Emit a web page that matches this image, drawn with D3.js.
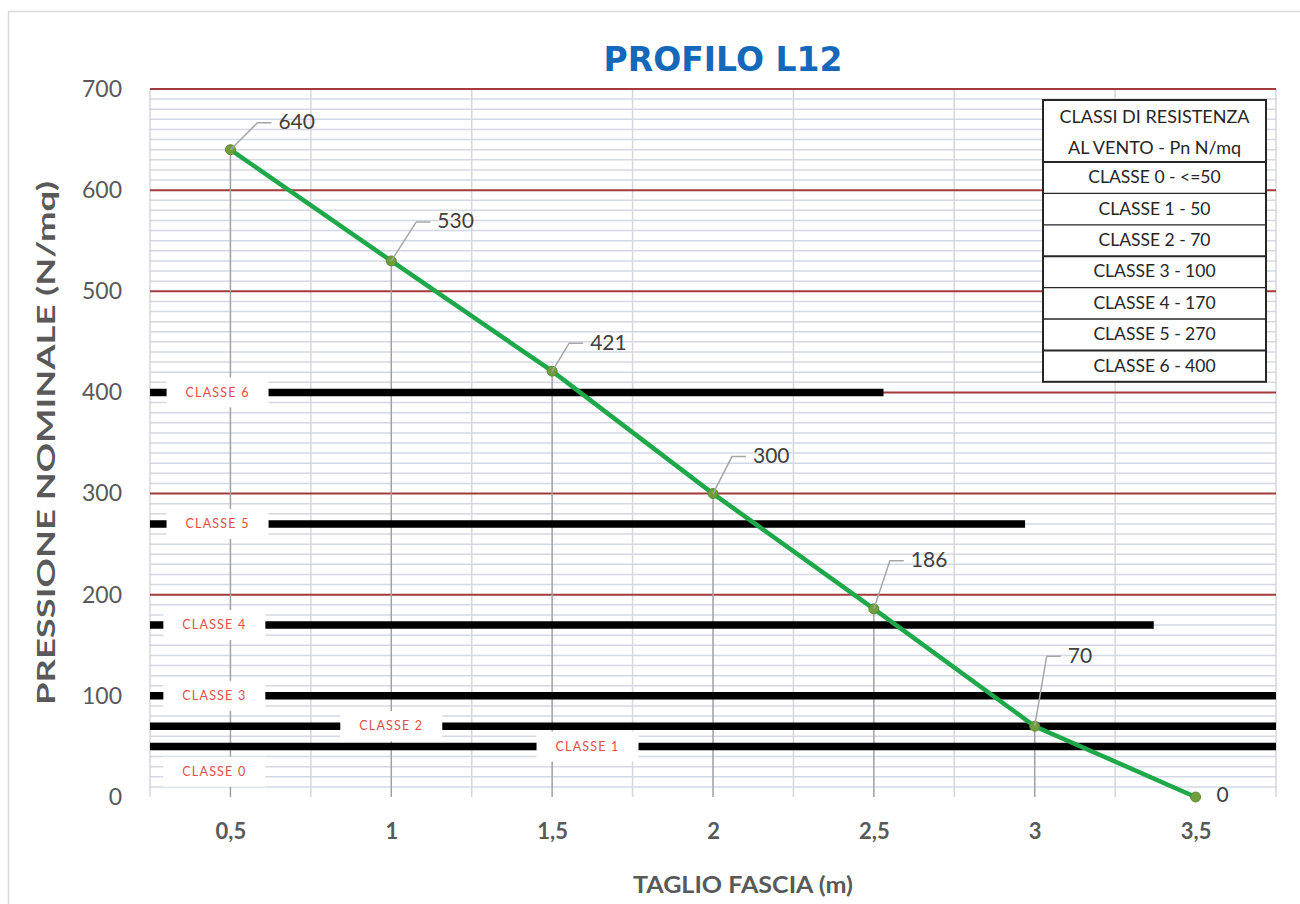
<!DOCTYPE html>
<html>
<head>
<meta charset="utf-8">
<script src="https://cdn.jsdelivr.net/npm/d3@7"></script>
<style>
  body { margin: 0; background: #fff; }
  svg { display: block; }
</style>
</head>
<body>
<svg id="chart"></svg>
<script>
// values
const taglio = [0.5, 1, 1.5, 2, 2.5, 3, 3.5];
const pressione = [640, 530, 421, 300, 186, 70, 0];
const xTicks = [0.5, 1, 1.5, 2, 2.5, 3, 3.5];
const yTicks = [0, 100, 200, 300, 400, 500, 600, 700];

// wind classes drawn as thick black lines, with their labels
const classi = ["CLASSE 6", "CLASSE 5", "CLASSE 4", "CLASSE 3", "CLASSE 2", "CLASSE 1", "CLASSE 0"];
const classeValore = [400, 270, 170, 100, 70, 50, 25];
const classeFine = [2.53, 2.97, 3.37, 3.75, 3.75, 3.75, null];   // null = no line
const classeEtichettaX = [0.46, 0.46, 0.45, 0.45, 1.0, 1.61, 0.45];

const legendaTitolo = ["CLASSI DI RESISTENZA", "AL VENTO - Pn N/mq"];
const legendaRighe = ["CLASSE 0 - <=50", "CLASSE 1 - 50", "CLASSE 2 - 70", "CLASSE 3 - 100",
                      "CLASSE 4 - 170", "CLASSE 5 - 270", "CLASSE 6 - 400"];

// where excel left the data labels (pixels from the point)
const labelOffsets = [[48, -26], [46, -38], [38, -27], [40, -36], [37, -47], [33, -69], [21, 0]];

const width = 1300, height = 904;
const margin = {top: 89, right: 24, bottom: 107, left: 150};

const svg = d3.select("#chart").attr("width", width).attr("height", height);

// outer chart frame (only top/left edges are in view)
svg.append("rect")
  .attr("x", 8.5).attr("y", 11.5).attr("width", 1320).attr("height", 920)
  .attr("fill", "#fff").attr("stroke", "#d9d9d9").attr("stroke-width", 1.5);

const x = d3.scaleLinear().domain([0.25, 3.75]).range([margin.left, width - margin.right]);
const y = d3.scaleLinear().domain([0, 700]).range([height - margin.bottom, margin.top]);

// minor horizontal grid every 10
const minor = d3.range(0, 701, 10).filter(d => d % 100 !== 0);
svg.append("g").selectAll("line").data(minor).enter().append("line")
  .attr("x1", x(0.25)).attr("x2", x(3.75))
  .attr("y1", d => y(d)).attr("y2", d => y(d))
  .attr("stroke", "#d3d8e4").attr("stroke-width", 1.5);

// vertical grid between categories
svg.append("g").selectAll("line").data(d3.range(0.25, 3.8, 0.5)).enter().append("line")
  .attr("x1", d => x(d)).attr("x2", d => x(d))
  .attr("y1", y(700)).attr("y2", y(0))
  .attr("stroke", "#d6d6de").attr("stroke-width", 1.5);

// major grid (dark red)
svg.append("g").selectAll("line").data(yTicks.filter(d => d > 0)).enter().append("line")
  .attr("x1", x(0.25)).attr("x2", x(3.75))
  .attr("y1", d => y(d)).attr("y2", d => y(d))
  .attr("stroke", "#a33b3b").attr("stroke-width", 2);

// drop lines from each point
svg.append("g").selectAll("line").data(taglio).enter().append("line")
  .attr("x1", d => x(d)).attr("x2", d => x(d))
  .attr("y1", (d, i) => y(pressione[i])).attr("y2", y(0))
  .attr("stroke", "#a0a0a6").attr("stroke-width", 1.5);

// class lines
const cl = svg.append("g");
classi.forEach(function(c, i) {
  if (classeFine[i] !== null) {
    cl.append("line")
      .attr("x1", x(0.25)).attr("x2", x(classeFine[i]))
      .attr("y1", y(classeValore[i])).attr("y2", y(classeValore[i]))
      .attr("stroke", "#000").attr("stroke-width", 7.5);
  }
});
classi.forEach(function(c, i) {
  const cx = x(classeEtichettaX[i]), cy = y(classeValore[i]);
  cl.append("rect")
    .attr("x", cx - 51).attr("y", cy - 15).attr("width", 102).attr("height", 30)
    .attr("fill", "#fff");
  cl.append("text")
    .attr("x", cx).attr("y", cy + 1)
    .attr("text-anchor", "middle").attr("dominant-baseline", "middle")
    .attr("font-family", "Lato, sans-serif").attr("font-size", 12.5)
    .attr("letter-spacing", 1.2)
    .attr("fill", "#e0504a")
    .text(c);
});

// green series line
const line = d3.line().x(d => x(d[0])).y(d => y(d[1]));
svg.append("path")
  .datum(taglio.map((d, i) => [d, pressione[i]]))
  .attr("d", line)
  .attr("fill", "none").attr("stroke", "#1ea84a").attr("stroke-width", 4.5);

svg.append("g").selectAll("circle").data(taglio).enter().append("circle")
  .attr("cx", d => x(d)).attr("cy", (d, i) => y(pressione[i])).attr("r", 5)
  .attr("fill", "#6f9e3c").attr("stroke", "#5d8a33").attr("stroke-width", 1);

// data labels with leader lines
const lab = svg.append("g");
taglio.forEach(function(d, i) {
  const px = x(d), py = y(pressione[i]);
  const tx = px + labelOffsets[i][0], ty = py + labelOffsets[i][1];
  if (labelOffsets[i][1] !== 0) {
    lab.append("path")
      .attr("d", "M" + px + "," + py + " L" + (tx - 21) + "," + (ty - 1) + " L" + (tx - 7) + "," + (ty - 1))
      .attr("fill", "none").attr("stroke", "#a6a6a6").attr("stroke-width", 1.5);
  }
  lab.append("text")
    .attr("x", tx).attr("y", ty)
    .attr("dominant-baseline", "middle")
    .attr("font-family", "Lato, sans-serif").attr("font-size", 21)
    .attr("fill", "#404040")
    .text(pressione[i]);
});

// axes
const yAxis = d3.axisLeft(y).tickValues(yTicks).tickSize(0).tickPadding(28);
svg.append("g")
  .attr("transform", "translate(" + margin.left + ",0)")
  .call(yAxis)
  .call(g => g.select(".domain").remove())
  .selectAll("text")
  .attr("font-family", "Lato, sans-serif").attr("font-size", 23).attr("fill", "#595959");

const xAxis = d3.axisBottom(x).tickValues(xTicks).tickSize(0).tickPadding(26)
  .tickFormat(d => String(d).replace(".", ","));
svg.append("g")
  .attr("transform", "translate(0," + y(0) + ")")
  .call(xAxis)
  .call(g => g.select(".domain").remove())
  .selectAll("text")
  .attr("font-family", "Lato, sans-serif").attr("font-weight", "bold")
  .attr("font-size", 22).attr("fill", "#595959");

// titles
svg.append("text")
  .attr("x", 723).attr("y", 71).attr("text-anchor", "middle")
  .attr("font-family", "DejaVu Sans, sans-serif").attr("font-weight", "bold")
  .attr("font-size", 33).attr("fill", "#1468b9")
  .text("PROFILO L12");

svg.append("text")
  .attr("transform", "translate(55,443) rotate(-90)")
  .attr("text-anchor", "middle")
  .attr("font-family", "Lato, sans-serif").attr("font-weight", "bold")
  .attr("font-size", 24).attr("fill", "#595959")
  .attr("textLength", 524).attr("lengthAdjust", "spacingAndGlyphs")
  .text("PRESSIONE NOMINALE (N/mq)");

svg.append("text")
  .attr("x", 743).attr("y", 893).attr("text-anchor", "middle")
  .attr("font-family", "Lato, sans-serif").attr("font-weight", "bold")
  .attr("font-size", 23).attr("fill", "#595959")
  .attr("textLength", 220).attr("lengthAdjust", "spacingAndGlyphs")
  .text("TAGLIO FASCIA (m)");

// legend table
const lx = 1043, ly = 100, lw = 223, headH = 62, rowH = 31.4;
const leg = svg.append("g");
leg.append("rect")
  .attr("x", lx).attr("y", ly).attr("width", lw).attr("height", headH + rowH * legendaRighe.length)
  .attr("fill", "#fff").attr("stroke", "#262626").attr("stroke-width", 2);
legendaTitolo.forEach(function(t, i) {
  leg.append("text")
    .attr("x", lx + lw / 2).attr("y", ly + 18 + i * 31)
    .attr("text-anchor", "middle").attr("dominant-baseline", "middle")
    .attr("font-family", "Lato, sans-serif").attr("font-size", 18).attr("fill", "#262626")
    .text(t);
});
legendaRighe.forEach(function(t, i) {
  const top = ly + headH + i * rowH;
  leg.append("line")
    .attr("x1", lx).attr("x2", lx + lw).attr("y1", top).attr("y2", top)
    .attr("stroke", "#262626").attr("stroke-width", i % 3 === 0 ? 2 : 1.3);
  leg.append("text")
    .attr("x", lx + lw / 2).attr("y", top + rowH / 2 + 1)
    .attr("text-anchor", "middle").attr("dominant-baseline", "middle")
    .attr("font-family", "Lato, sans-serif").attr("font-size", 17.5).attr("fill", "#262626")
    .text(t);
});
</script>
</body>
</html>
